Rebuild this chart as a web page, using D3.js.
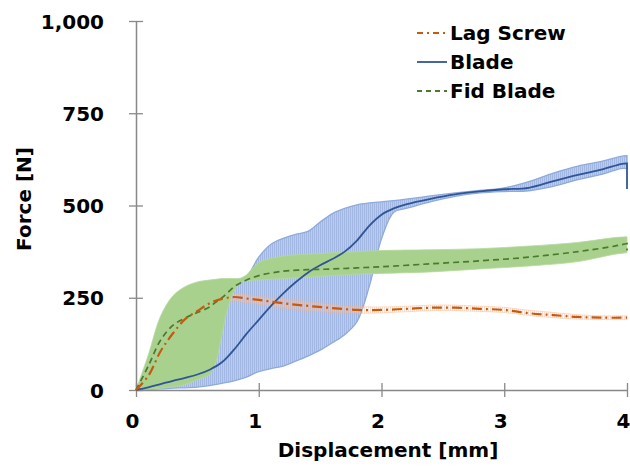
<!DOCTYPE html>
<html>
<head>
<meta charset="utf-8">
<script src="https://cdn.jsdelivr.net/npm/d3@7"></script>
<style>
  body { margin: 0; background: #fff; }
  text { font-family: "DejaVu Sans", Verdana, sans-serif; font-weight: bold; fill: #000; }
</style>
</head>
<body>
<svg width="630" height="468"></svg>
<script>
// Blade (mean with band)
const bladeX     = [0, 0.1, 0.2, 0.3, 0.4, 0.5, 0.6, 0.7, 0.8, 0.9, 1.0, 1.1, 1.2, 1.3, 1.4, 1.5, 1.6, 1.7, 1.8, 1.9, 2.0, 2.1, 2.2, 2.4, 2.6, 2.8, 3.0, 3.2, 3.4, 3.6, 3.8, 3.95, 4.0];
const bladeMean  = [0, 7, 16, 25, 33, 42, 55, 75, 110, 152, 190, 228, 262, 292, 318, 338, 355, 375, 405, 445, 475, 492, 503, 518, 530, 538, 544, 548, 566, 583, 598, 612, 614];
const bladeUpper = [0, 30, 60, 100, 145, 185, 225, 255, 280, 305, 360, 395, 411, 422, 430, 455, 478, 492, 502, 507, 510, 513, 517, 526, 534, 541, 548, 565, 588, 607, 620, 633, 635];
const bladeLower = [0, 2, 3, 5, 6, 8, 12, 18, 25, 35, 50, 58, 65, 78, 92, 108, 128, 150, 185, 280, 410, 482, 492, 510, 525, 534, 538, 540, 552, 570, 585, 600, 600];
const bladeEnd   = [614, 545];

// Fid Blade
const fidX     = [0, 0.1, 0.2, 0.3, 0.4, 0.5, 0.6, 0.65, 0.7, 0.75, 0.8, 0.85, 0.9, 1.0, 1.2, 1.4, 1.6, 1.8, 2.0, 2.4, 2.8, 3.2, 3.6, 3.9, 4.0];
const fidMean  = [0, 65, 135, 175, 195, 210, 225, 238, 250, 265, 280, 290, 298, 310, 322, 326, 328, 331, 334, 342, 350, 360, 375, 390, 397];
const fidUpper = [0, 95, 200, 255, 280, 293, 298, 300, 302, 302, 302, 303, 312, 345, 363, 368, 372, 375, 378, 380, 383, 390, 400, 413, 415];
const fidLower = [0, 2, 5, 8, 15, 28, 42, 75, 150, 225, 268, 290, 296, 298, 302, 306, 310, 314, 316, 320, 328, 336, 348, 368, 372];
const fidEnd   = [397, 378];

// Lag Screw
const lagX     = [0, 0.1, 0.2, 0.3, 0.4, 0.5, 0.6, 0.7, 0.8, 0.9, 1.0, 1.2, 1.4, 1.6, 1.8, 2.0, 2.2, 2.4, 2.6, 2.8, 3.0, 3.2, 3.4, 3.6, 3.8, 4.0];
const lagMean  = [0, 38, 105, 153, 192, 214, 235, 247, 252, 248, 244, 235, 228, 222, 217, 217, 220, 223, 223, 220, 217, 208, 203, 198, 196, 196];
const lagUpper = [0, 48, 118, 168, 205, 228, 248, 258, 262, 258, 254, 247, 240, 232, 226, 225, 227, 230, 230, 227, 224, 216, 210, 204, 201, 201];
const lagLower = [0, 28, 90, 138, 178, 200, 222, 236, 242, 236, 232, 222, 215, 210, 208, 209, 212, 215, 215, 213, 210, 202, 196, 192, 191, 191];

const xTicks = [0, 1, 2, 3, 4];
const yTicks = [0, 250, 500, 750, 1000];
const legendNames = ["Lag Screw", "Blade", "Fid Blade"];

const svg = d3.select("svg");
const x = d3.scaleLinear().domain([0, 4]).range([136, 627]);
const y = d3.scaleLinear().domain([0, 1000]).range([390, 21]);

// hatch patterns for the bands (error bars drawn as thin verticals)
const defs = svg.append("defs");
const pat = defs.append("pattern").attr("id", "bladeHatch")
  .attr("patternUnits", "userSpaceOnUse").attr("width", 2).attr("height", 4);
pat.append("rect").attr("width", 2).attr("height", 4).attr("fill", "#bccdeb");
pat.append("line").attr("x1", 0.5).attr("x2", 0.5).attr("y1", 0).attr("y2", 4)
  .attr("stroke", "#a2b8e2").attr("stroke-width", 1);
const pat2 = defs.append("pattern").attr("id", "lagHatch")
  .attr("patternUnits", "userSpaceOnUse").attr("width", 2).attr("height", 4);
pat2.append("line").attr("x1", 0.5).attr("x2", 0.5).attr("y1", 0).attr("y2", 4)
  .attr("stroke", "#f4b99a").attr("stroke-opacity", 0.45);

const curve = d3.curveCatmullRom.alpha(0.5);

function band(xs, lo, hi) {
  return d3.area().curve(curve)
    .x((d, i) => x(xs[i])).y0((d, i) => y(lo[i])).y1((d, i) => y(hi[i]))(xs);
}
function mean(xs, ys, end) {
  const pts = xs.map((v, i) => [v, ys[i]]);
  let p = d3.line().curve(curve).x(d => x(d[0])).y(d => y(d[1]))(pts);
  if (end) p += "L" + x(xs[xs.length - 1]) + "," + y(end[1]);
  return p;
}

// bands: blade, lag screw, then fid blade on top
svg.append("path").attr("d", band(bladeX, bladeLower, bladeUpper))
  .attr("fill", "url(#bladeHatch)").attr("stroke", "#8eaadb").attr("stroke-width", 1.3);
svg.append("path").attr("d", band(lagX, lagLower, lagUpper))
  .attr("fill", "url(#lagHatch)").attr("stroke", "#f4b183").attr("stroke-opacity", 0.55).attr("stroke-width", 0.8);
svg.append("path").attr("d", band(fidX, fidLower, fidUpper))
  .attr("fill", "#a9d18e").attr("stroke", "#b5d89d").attr("stroke-width", 0.8);

// axes
const gy = svg.append("g").attr("transform", "translate(136,0)")
  .call(d3.axisLeft(y).tickValues(yTicks).tickFormat(d3.format(",")).tickSize(7).tickSizeOuter(0));
gy.select(".domain").attr("stroke", "#898989").attr("stroke-width", 1.5);
gy.selectAll(".tick line").attr("x1", -7).attr("x2", 7).attr("stroke", "#898989").attr("stroke-width", 1.3);
gy.selectAll(".tick text").attr("x", -32).attr("dy", "0.36em")
  .style("font-size", "20px").style("font-family", "'DejaVu Sans', sans-serif").style("font-weight", "bold").attr("fill", "#000");

const gx = svg.append("g").attr("transform", "translate(0,390)")
  .call(d3.axisBottom(x).tickValues(xTicks).tickFormat(d3.format("d")).tickSize(7).tickSizeOuter(0));
gx.select(".domain").attr("stroke", "#898989").attr("stroke-width", 1.5);
gx.selectAll(".tick line").attr("y1", -7).attr("y2", 7).attr("stroke", "#898989").attr("stroke-width", 1.3);
gx.selectAll(".tick text").attr("x", -4).attr("y", 38).attr("dy", 0)
  .style("font-size", "20px").style("font-family", "'DejaVu Sans', sans-serif").style("font-weight", "bold").attr("fill", "#000");

// mean lines
svg.append("path").attr("d", mean(bladeX, bladeMean, bladeEnd))
  .attr("fill", "none").attr("stroke", "#2f5597").attr("stroke-width", 1.8);
svg.append("path").attr("d", mean(fidX, fidMean, fidEnd))
  .attr("fill", "none").attr("stroke", "#4a7a2e").attr("stroke-width", 1.7).attr("stroke-dasharray", "6,4");
svg.append("path").attr("d", mean(lagX, lagMean))
  .attr("fill", "none").attr("stroke", "#c55a11").attr("stroke-width", 2.2).attr("stroke-dasharray", "10,4,2,4");

// axis titles
svg.append("text").attr("x", 388).attr("y", 457).attr("text-anchor", "middle")
  .style("font-size", "20px").text("Displacement [mm]");
svg.append("text").attr("transform", "translate(31,199) rotate(-90)").attr("text-anchor", "middle")
  .style("font-size", "20px").text("Force [N]");

// legend
const legendStyles = [
  {stroke: "#c55a11", dash: "6,4,2,4"},
  {stroke: "#2f5597", dash: null},
  {stroke: "#4a7a2e", dash: "5,4"}
];
const lg = svg.append("g");
legendNames.forEach((name, i) => {
  const ly = 33 + i * 29;
  lg.append("line").attr("x1", 417).attr("x2", 447).attr("y1", ly).attr("y2", ly)
    .attr("stroke", legendStyles[i].stroke).attr("stroke-width", 1.8)
    .attr("stroke-dasharray", legendStyles[i].dash);
  lg.append("text").attr("x", 450).attr("y", ly + 7).style("font-size", "20px").text(name);
});
</script>
</body>
</html>
